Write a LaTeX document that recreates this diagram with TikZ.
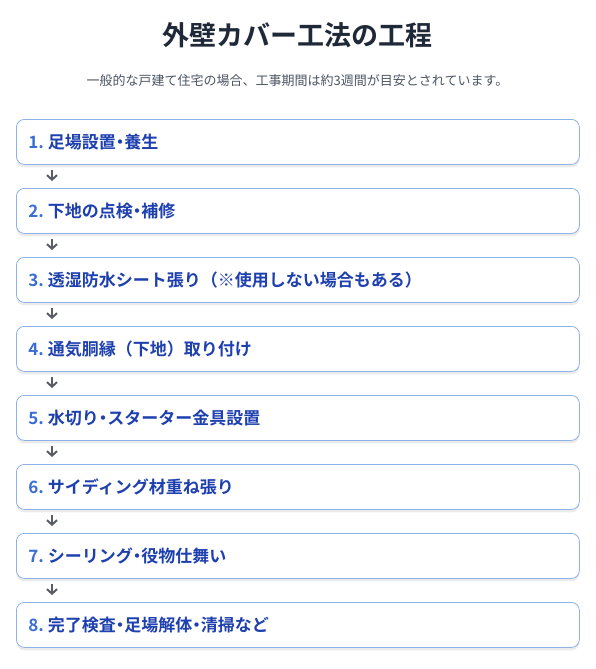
\documentclass[tikz,border=0pt]{standalone}
\usepackage{fontspec}
\setmainfont{Noto Sans CJK JP}[BoldFont={Noto Sans CJK JP Bold}]
\usepackage{tikz}
\usetikzlibrary{arrows.meta,shadows}
\definecolor{titlecol}{RGB}{31,41,55}
\definecolor{subcol}{RGB}{75,85,99}
\definecolor{numcol}{RGB}{59,110,212}
\definecolor{stepcol}{RGB}{30,64,175}
\definecolor{edgecol}{RGB}{140,178,232}
\definecolor{arrowcol}{RGB}{90,93,100}
\newcommand{\nkg}{\makebox[.5em]{・}}

\begin{document}
\begin{tikzpicture}[x=1pt,y=-1pt,>={Straight Barb[length=4.5pt,width=10pt]},
    stepbox/.style={draw=edgecol,fill=white,rounded corners=8pt,line width=.8pt,
        anchor=north west,minimum height=45pt,text width=539pt,inner xsep=12pt,align=left,
        font=\bfseries\fontsize{17}{20}\selectfont,text=stepcol,
        drop shadow={shadow xshift=0pt,shadow yshift=-3pt,opacity=.08,fill=black}},
    flow/.style={->,draw=arrowcol,line width=2pt}]
    % 画布大小与原图一致
    \useasboundingbox (0,0) rectangle (595,669);
    \node[font=\bfseries\fontsize{27}{32}\selectfont,text=titlecol] (title) at (297.5,35) {外壁カバー工法の工程};
    \node[font=\fontsize{13}{16}\selectfont,text=subcol] (sub) at (297.5,81) {一般的な戸建て住宅の場合、工事期間は約3週間が目安とされています。};
    % 各工程
    \foreach \i/\txt in {1/{足場設置\nkg 養生},2/{下地の点検\nkg 補修},3/{透湿防水シート張り（※使用しない場合もある）},
        4/{通気胴縁（下地）取り付け},5/{水切り\nkg スターター金具設置},6/{サイディング材重ね張り},
        7/{シーリング\nkg 役物仕舞い},8/{完了検査\nkg 足場解体\nkg 清掃など}}
        \node[stepbox] (s\i) at (16,{119+(\i-1)*69}) {\textcolor{numcol}{\i.}\kern4pt\txt};
    %箭头
    \foreach \i [evaluate=\i as \j using int(\i+1)] in {1,...,7}
        \draw[flow] ([xshift=36pt,yshift=-5pt]s\i.south west) -- ([xshift=36pt,yshift=7pt]s\j.north west);
\end{tikzpicture}
\end{document}
